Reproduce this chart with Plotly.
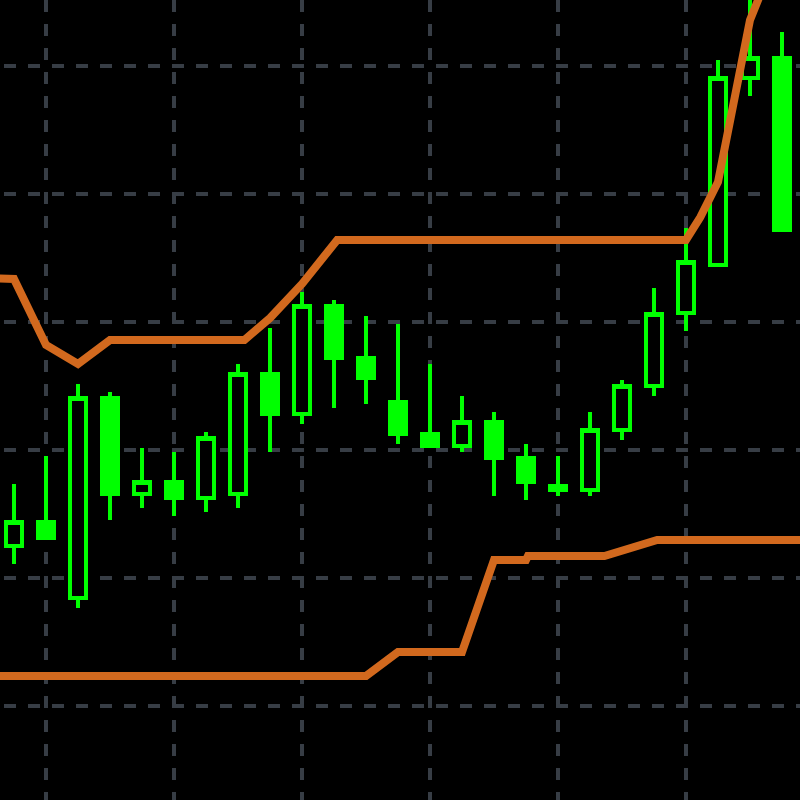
import plotly.graph_objects as go

# Candle index (category positions)
candle_idx = list(range(25))

opens  = [112.50, 114.38, 108.44, 124.06, 116.56, 117.50, 116.25, 116.56, 125.94, 122.81,
          131.25, 127.19, 123.75, 121.25, 120.31, 122.19, 119.38, 117.19, 116.88, 121.56,
          125.00, 130.70, 134.45, 149.06, 150.63]
highs  = [117.34, 119.53, 125.16, 124.53, 120.16, 119.84, 121.41, 126.72, 129.53, 132.34,
          131.72, 130.47, 129.84, 126.72, 124.22, 122.97, 120.47, 119.53, 122.97, 125.47,
          132.66, 137.34, 150.47, 155.31, 152.66]
lows   = [111.09, 113.13, 107.66, 114.53, 115.47, 114.84, 115.16, 115.47, 119.84, 122.03,
          123.28, 123.59, 120.47, 120.31, 119.84, 116.41, 116.09, 116.41, 116.41, 120.78,
          124.22, 129.30, 134.45, 147.66, 137.19]
closes = [114.38, 113.13, 124.06, 116.56, 117.50, 116.25, 120.94, 125.94, 122.81, 131.25,
          127.19, 125.63, 121.25, 120.31, 122.19, 119.38, 117.50, 116.88, 121.56, 125.00,
          130.63, 134.69, 149.06, 150.63, 137.19]

# Channel bands (positions in candle-index units)
upper_idx  = [-1, 0, 1, 2, 3, 7.2, 8, 9, 10.1, 21, 21.45, 22, 23, 24, 25]
upper_band = [133.44, 133.36, 128.20, 126.72, 128.59, 128.59, 130.31, 132.97, 136.41,
              136.41, 138.20, 140.94, 153.59, 159.84, 166.00]
lower_idx  = [-1, 11, 12, 14, 15, 16, 16.06, 18.45, 20.1, 25]
lower_band = [102.34, 102.34, 104.22, 104.22, 111.41, 111.41, 111.72, 111.72, 112.97, 112.97]

GREEN = "#00ff00"
ORANGE = "#d2691e"
GRID = "rgb(55,61,69)"

fig = go.Figure()
fig.add_trace(go.Candlestick(
    x=candle_idx, open=opens, high=highs, low=lows, close=closes,
    increasing=dict(line=dict(color=GREEN, width=4), fillcolor="#000000"),
    decreasing=dict(line=dict(color=GREEN, width=4), fillcolor=GREEN),
    whiskerwidth=0, showlegend=False, hoverinfo="skip",
))
fig.add_trace(go.Scatter(x=upper_idx, y=upper_band, mode="lines",
                         line=dict(color=ORANGE, width=8), showlegend=False, hoverinfo="skip"))
fig.add_trace(go.Scatter(x=lower_idx, y=lower_band, mode="lines",
                         line=dict(color=ORANGE, width=8), showlegend=False, hoverinfo="skip"))

fig.update_layout(
    width=800, height=800,
    margin=dict(l=0, r=0, t=0, b=0),
    paper_bgcolor="#000000", plot_bgcolor="#000000",
    boxgap=0.5, boxgroupgap=0,
    showlegend=False,
    xaxis=dict(range=[-0.4375, 24.5625], tick0=1, dtick=4, showgrid=True,
               gridcolor=GRID, gridwidth=4, griddash="12px,12px",
               showticklabels=False, zeroline=False, showline=False, ticks="",
               rangeslider=dict(visible=False)),
    yaxis=dict(range=[92.65625, 155.15625], tick0=100, dtick=10, showgrid=True,
               gridcolor=GRID, gridwidth=4, griddash="0px,4px,12px,8px",
               showticklabels=False, zeroline=False, showline=False, ticks=""),
)

fig.write_html(
    "out.html",
    config={"displayModeBar": False},
    post_script="document.body.style.margin='0';document.body.style.background='#000';"
                "document.body.style.overflow='hidden';",
)
